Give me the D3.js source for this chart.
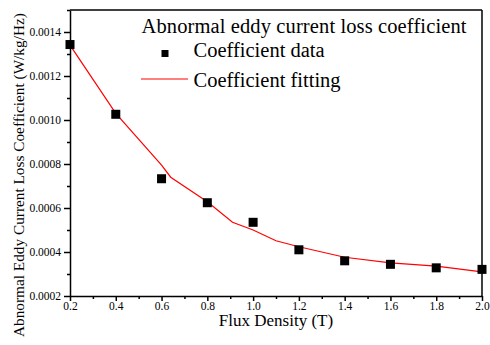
<!DOCTYPE html>
<html>
<head>
<meta charset="utf-8">
<script src="https://cdn.jsdelivr.net/npm/d3@7"></script>
<style>
	body { margin: 0; background: #fff; }
</style>
</head>
<body>
<div id="wrapper"></div>
<script>
// measured points
const fluxDensity = [0.2, 0.4, 0.6, 0.8, 1.0, 1.2, 1.4, 1.6, 1.8, 2.0];
const coeffData = [0.001343, 0.001026, 0.000733, 0.000624, 0.000535, 0.000410, 0.000360, 0.000344, 0.000328, 0.000321];

// fitted curve
const fitFlux = [0.2, 0.4, 0.6, 0.64, 0.8, 0.91, 1.0, 1.1, 1.2, 1.4, 1.6, 1.8, 2.0];
const fitValues = [0.001340, 0.001030, 0.000795, 0.000740, 0.000628, 0.000535, 0.000500, 0.000451, 0.000424, 0.000376, 0.000351, 0.000336, 0.000310];

const xTicks = [0.2, 0.4, 0.6, 0.8, 1.0, 1.2, 1.4, 1.6, 1.8, 2.0];
const yTicks = [0.0002, 0.0004, 0.0006, 0.0008, 0.0010, 0.0012, 0.0014];

const legendTitle = "Abnormal eddy current loss coefficient";
const legendLabels = ["Coefficient data", "Coefficient fitting"];

const serif = "'Liberation Serif'";

function drawChart(){

	let dimensions = {
		width: 490,
		height: 345,
		margin: {
			top: 10,
			right: 8,
			bottom: 49,
			left: 70
		}
	};

	dimensions.boundedWidth = dimensions.width - dimensions.margin.left - dimensions.margin.right;
	dimensions.boundedHeight = dimensions.height - dimensions.margin.top - dimensions.margin.bottom;

	let wrapper = d3.select("#wrapper").append("svg");
	wrapper.attr("width", dimensions.width);
	wrapper.attr("height", dimensions.height);

	let container = wrapper.append("g")
		.attr("transform", `translate(${dimensions.margin.left},${dimensions.margin.top})`);

	let xScale = d3.scaleLinear()
		.domain([0.2, 2.0])
		.range([0, dimensions.boundedWidth]);

	let yScale = d3.scaleLinear()
		.domain([0.0002, 0.0015])
		.range([dimensions.boundedHeight, 0]);

	// minor ticks (no labels)
	let xMinor = d3.range(0.3, 2.0, 0.2);
	let yMinor = d3.range(0.0003, 0.00151, 0.0002);

	container.append("g")
		.call(d3.axisBottom(xScale).tickValues(xMinor).tickSize(3).tickFormat(""))
		.attr("transform", `translate(0,${dimensions.boundedHeight})`)
		.call(g => g.select(".domain").remove());

	container.append("g")
		.call(d3.axisLeft(yScale).tickValues(yMinor).tickSize(3).tickFormat(""))
		.call(g => g.select(".domain").remove());

	let xAxisGen = d3.axisBottom(xScale).tickValues(xTicks).tickSize(5).tickPadding(1).tickSizeOuter(0).tickFormat(d3.format(".1f"));
	let yAxisGen = d3.axisLeft(yScale).tickValues(yTicks).tickSize(6).tickPadding(3).tickSizeOuter(0).tickFormat(d3.format(".4f"));

	const axisX = container.append("g").call(xAxisGen)
		.attr("transform", `translate(0,${dimensions.boundedHeight})`);
	const axisY = container.append("g").call(yAxisGen);

	container.selectAll(".tick text")
		.attr("font-family", serif)
		.attr("font-size", 11.5)
		.attr("fill", "#000");
	container.selectAll(".domain, .tick line").attr("stroke", "#000").attr("stroke-width", 1.5);

	// top and right frame
	container.append("line")
		.attr("x1", 0).attr("x2", dimensions.boundedWidth)
		.attr("y1", 0).attr("y2", 0)
		.attr("stroke", "#000").attr("stroke-width", 1.5);
	container.append("line")
		.attr("x1", dimensions.boundedWidth).attr("x2", dimensions.boundedWidth)
		.attr("y1", 0).attr("y2", dimensions.boundedHeight)
		.attr("stroke", "#000").attr("stroke-width", 1.5);

	// fit line
	let lineGen = d3.line()
		.x((d, i) => xScale(fitFlux[i]))
		.y(d => yScale(d));

	container.append("path")
		.datum(fitValues)
		.attr("d", lineGen)
		.attr("fill", "none")
		.attr("stroke", "#ff0000")
		.attr("stroke-width", 1.2);

	// data squares
	const sq = 9;
	container.append("g").selectAll("rect")
		.data(coeffData)
		.enter()
		.append("rect")
		.attr("x", (d, i) => xScale(fluxDensity[i]) - sq / 2)
		.attr("y", d => yScale(d) - sq / 2)
		.attr("width", sq)
		.attr("height", sq)
		.style("fill", "#000");

	// legend
	const legend = wrapper.append("g");
	legend.append("text")
		.attr("x", 141.5)
		.attr("y", 33.3)
		.attr("font-family", serif)
		.attr("font-size", 20.5)
		.attr("textLength", 325)
		.text(legendTitle);

	legend.append("rect")
		.attr("x", 161.5).attr("y", 50)
		.attr("width", 7).attr("height", 7)
		.style("fill", "#000");
	legend.append("text")
		.attr("x", 193.5)
		.attr("y", 56.7)
		.attr("font-family", serif)
		.attr("font-size", 20.5)
		.text(legendLabels[0]);

	legend.append("line")
		.attr("x1", 141).attr("x2", 188)
		.attr("y1", 79).attr("y2", 79)
		.attr("stroke", "#ff5555").attr("stroke-width", 1.5);
	legend.append("text")
		.attr("x", 193.5)
		.attr("y", 86.5)
		.attr("font-family", serif)
		.attr("font-size", 20.5)
		.text(legendLabels[1]);

	// axis titles
	wrapper.append("text")
		.attr("x", dimensions.margin.left + dimensions.boundedWidth / 2)
		.attr("y", 326)
		.attr("text-anchor", "middle")
		.attr("font-family", serif)
		.attr("font-size", 17)
		.text("Flux Density (T)");

	wrapper.append("text")
		.attr("transform", "translate(24,337) rotate(-90)")
		.attr("text-anchor", "start")
		.attr("font-family", serif)
		.attr("font-size", 15.3)
		.text("Abnormal Eddy Current Loss Coefficient (W/kg/Hz)");
}

drawChart();
</script>
</body>
</html>
